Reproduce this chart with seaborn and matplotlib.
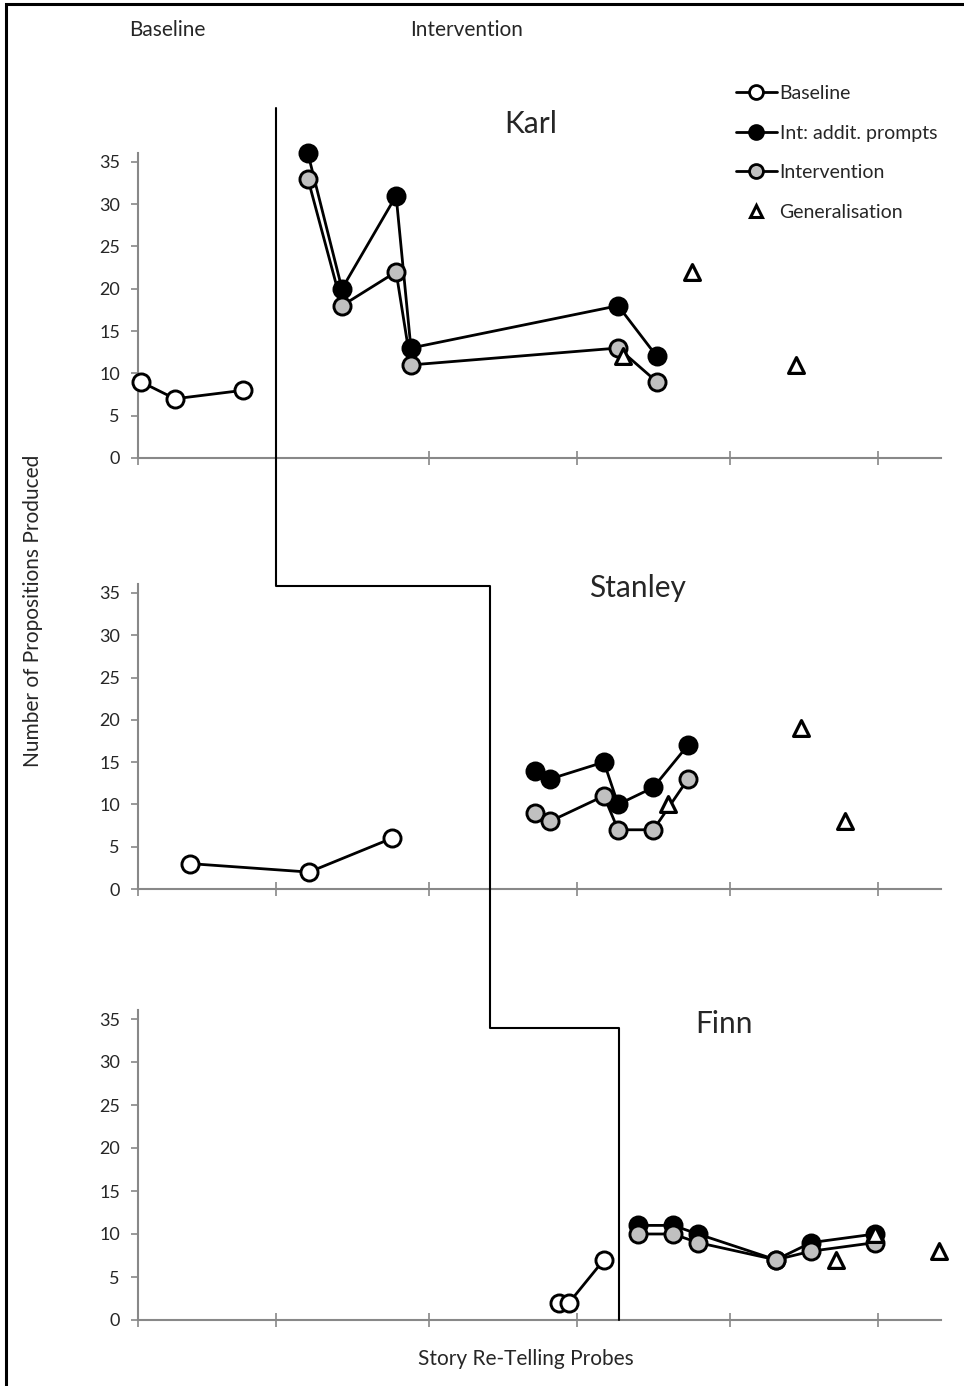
#!/usr/bin/env python3
"""Multiple baseline chart: propositions produced in story re-telling probes"""
import numpy as np
import seaborn as sns
import matplotlib.patches as mpatches
from matplotlib import pyplot as plt
from matplotlib.lines import Line2D

sns.set_style("white")
plt.rcParams['font.family'] = ['Lato', 'DejaVu Sans']

# session positions (x) and proposition counts (y)
karl_base_x = [0.1, 1.25, 3.55]
karl_base_y = [9, 7, 8]
karl_prompt_x = [5.74, 6.89, 8.72, 9.22, 16.22, 17.53]
karl_prompt_y = [36, 20, 31, 13, 18, 12]
karl_int_x = [5.74, 6.89, 8.72, 9.22, 16.22, 17.53]
karl_int_y = [33, 18, 22, 11, 13, 9]
karl_gen_x = [16.39, 18.72, 22.23]
karl_gen_y = [12, 22, 11]

stanley_base_x = [1.76, 5.78, 8.58]
stanley_base_y = [3, 2, 6]
stanley_prompt_x = [13.41, 13.92, 15.74, 16.22, 17.41, 18.58]
stanley_prompt_y = [14, 13, 15, 10, 12, 17]
stanley_int_x = [13.41, 13.92, 15.74, 16.22, 17.41, 18.58]
stanley_int_y = [9, 8, 11, 7, 7, 13]
stanley_gen_x = [17.91, 22.40, 23.89]
stanley_gen_y = [10, 19, 8]

finn_base_x = [14.22, 14.56, 15.74]
finn_base_y = [2, 2, 7]
finn_prompt_x = [16.89, 18.07, 18.92, 21.55, 22.74, 24.90]
finn_prompt_y = [11, 11, 10, 7, 9, 10]
finn_int_x = [16.89, 18.07, 18.92, 21.55, 22.74, 24.90]
finn_int_y = [10, 10, 9, 7, 8, 9]
finn_gen_x = [23.58, 24.90, 27.06]
finn_gen_y = [7, 10, 8]

names = ["Karl", "Stanley", "Finn"]
x_ticks = [0, 4.66, 9.83, 14.83, 20, 25]
y_ticks = [0, 5, 10, 15, 20, 25, 30, 35]

# phase change line: x position per panel, y level of the step per panel
phase_x = [4.66, 11.89, 16.25]
phase_top = [41.4, 35.8, 34.0]

panels = [
    (karl_base_x, karl_base_y, karl_prompt_x, karl_prompt_y,
     karl_int_x, karl_int_y, karl_gen_x, karl_gen_y),
    (stanley_base_x, stanley_base_y, stanley_prompt_x, stanley_prompt_y,
     stanley_int_x, stanley_int_y, stanley_gen_x, stanley_gen_y),
    (finn_base_x, finn_base_y, finn_prompt_x, finn_prompt_y,
     finn_int_x, finn_int_y, finn_gen_x, finn_gen_y),
]

W, H = 964, 1386
fig = plt.figure(figsize=(W / 100, H / 100), dpi=100)

# axes boxes in pixels: left, zero line, pixels per unit
boxes = [(138, 458, 8.46), (138, 889, 8.46), (138, 1320, 8.60)]
XMAX = (941 - 138) / 29.6
YMAX = 36

circle = dict(markersize=12.3, markeredgewidth=2.1, markeredgecolor="black")
tri = dict(marker="^", s=130, facecolor="white", edgecolor="black", linewidth=2.3)

axes = []
for (px_left, px_zero, ppu), name, data in zip(boxes, names, panels):
    bx, by, px, py, ix, iy, gx, gy = data
    top = px_zero - YMAX * ppu
    ax = fig.add_axes([px_left / W, 1 - px_zero / H, (941 - px_left) / W,
                       (px_zero - top) / H])
    sns.lineplot(x=bx, y=by, sort=False, ax=ax, color="black", lw=2,
                 marker="o", markerfacecolor="white", zorder=3,
                 clip_on=False, **circle)
    sns.lineplot(x=px, y=py, sort=False, ax=ax, color="black", lw=2,
                 marker="o", markerfacecolor="black", zorder=3,
                 clip_on=False, **circle)
    sns.lineplot(x=ix, y=iy, sort=False, ax=ax, color="black", lw=2,
                 marker="o", markerfacecolor="#c0c0c0", zorder=4,
                 clip_on=False, **circle)
    sns.scatterplot(x=gx, y=gy, ax=ax, zorder=5, clip_on=False, **tri)
    ax.set_xlim(0, XMAX)
    ax.set_ylim(0, YMAX)
    ax.set_xticks(x_ticks)
    ax.set_xticklabels([])
    ax.set_yticks(y_ticks)
    ax.tick_params(axis="y", direction="out", length=5, width=1.2,
                   color="#888888", labelsize=13, pad=8, left=True)
    ax.tick_params(axis="x", direction="inout", length=10, width=1.2,
                   color="#888888", bottom=True)
    for side in ["top", "right"]:
        ax.spines[side].set_visible(False)
    for side in ["left", "bottom"]:
        ax.spines[side].set_color("#888888")
        ax.spines[side].set_linewidth(1.5)
    ax.set_xlabel("")
    ax.set_ylabel("")
    ax.patch.set_alpha(0)
    axes.append(ax)

fig.canvas.draw()

# phase change line through all three panels
to_fig = fig.transFigure.inverted()
pts = []
for i, ax in enumerate(axes):
    pts.append(ax.transData.transform((phase_x[i], phase_top[i])))
    pts.append(ax.transData.transform((phase_x[i], 0)))
    if i + 1 < len(axes):
        nxt = axes[i + 1]
        yy = nxt.transData.transform((0, phase_top[i + 1]))[1]
        pts.append((pts[-1][0], yy))
pts = to_fig.transform(np.array(pts))
fig.add_artist(Line2D(pts[:, 0], pts[:, 1], color="black", lw=1.5,
                      transform=fig.transFigure, zorder=2))

# panel names
name_pos = [(531, 124), (637, 588), (724, 1024)]
for (nx, ny), name in zip(name_pos, names):
    fig.text(nx / W, 1 - ny / H, name, fontsize=21.5, ha="center", va="center")

fig.text(167 / W, 1 - 30 / H, "Baseline", fontsize=15, ha="center", va="center")
fig.text(467 / W, 1 - 30 / H, "Intervention", fontsize=15, ha="center", va="center")
fig.text(33 / W, 1 - 611 / H, "Number of Propositions Produced", fontsize=15,
         rotation=90, ha="center", va="center")
fig.text(526 / W, 1 - 1359 / H, "Story Re-Telling Probes", fontsize=15,
         ha="center", va="center")

# legend
handles = [
    Line2D([], [], color="black", lw=2, marker="o", markerfacecolor="white",
           markersize=10, markeredgewidth=2, markeredgecolor="black"),
    Line2D([], [], color="black", lw=2, marker="o", markerfacecolor="black",
           markersize=10, markeredgewidth=2, markeredgecolor="black"),
    Line2D([], [], color="black", lw=2, marker="o", markerfacecolor="#c0c0c0",
           markersize=10, markeredgewidth=2, markeredgecolor="black"),
    Line2D([], [], color="none", marker="^", markerfacecolor="white",
           markersize=9, markeredgewidth=2.2, markeredgecolor="black"),
]
labels = ["Baseline", "Int: addit. prompts", "Intervention", "Generalisation"]
fig.legend(handles, labels, loc="upper left", bbox_to_anchor=(728 / W, 1 - 77 / H),
           frameon=False, fontsize=14, handlelength=2.1, handletextpad=0.15,
           labelspacing=1.17, borderaxespad=0)

# outer frame
fig.add_artist(mpatches.Rectangle((6 / W, -0.05), 1.1, 1 - 4 / H + 0.05,
                                  transform=fig.transFigure, fill=False,
                                  edgecolor="black", lw=2.2))

plt.savefig("out.png", dpi=100)
